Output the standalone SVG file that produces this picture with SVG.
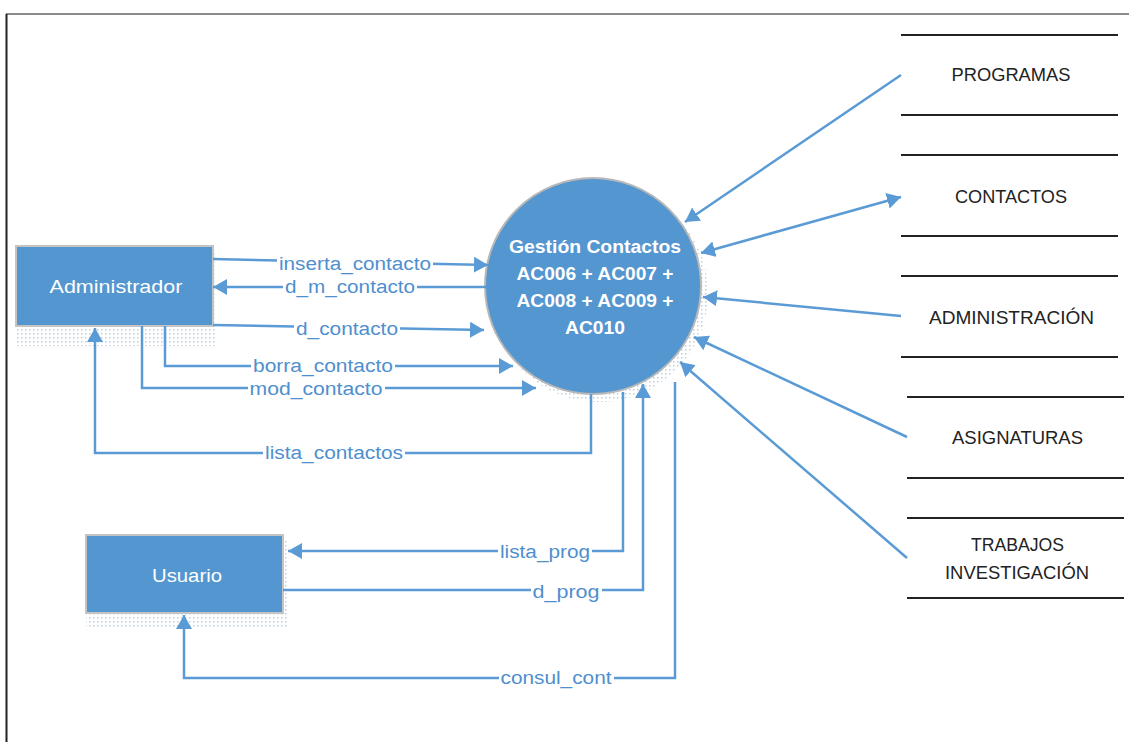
<svg xmlns="http://www.w3.org/2000/svg" width="1129" height="742" viewBox="0 0 1129 742">
<defs>
<style>
.frame-top{stroke:#8c8c8c;stroke-width:2;fill:none}
.frame-left{stroke:#222;stroke-width:2;fill:none}
.ent{fill:#5496d0;stroke:#c4c4c4;stroke-width:2}
.proc{fill:#5496d0;stroke:#b8b8b8;stroke-width:2}
.shadow{fill:url(#dots)}
.ent-t{font-family:"Liberation Sans",Arial,sans-serif;font-size:19px;fill:#fff;text-anchor:middle}
.proc-t{font-family:"Liberation Sans",Arial,sans-serif;font-size:18px;font-weight:bold;fill:#fff;text-anchor:middle}
.store{stroke:#222;stroke-width:2;fill:none}
.store-t{font-family:"Liberation Sans",Arial,sans-serif;font-size:18px;fill:#222;text-anchor:middle}
.flow{stroke:#5b9bd5;stroke-width:2.5;fill:none}
.arr{marker-end:url(#ah)}
.bg{fill:#fff}
.lbl{font-family:"Liberation Sans",Arial,sans-serif;font-size:18px;fill:#4f8fce;text-anchor:middle}
</style>
<pattern id="dots" width="4" height="4" patternUnits="userSpaceOnUse">
<rect x="1" y="1" width="1.5" height="1.5" fill="#8fb0d4" opacity="0.6"/>
</pattern>
<marker id="ah" viewBox="0 0 14 16" refX="14" refY="8" markerWidth="14" markerHeight="16" markerUnits="userSpaceOnUse" orient="auto-start-reverse">
<path d="M0,0 L14,8 L0,16 z" fill="#5b9bd5"/>
</marker>
</defs>
<rect width="1129" height="742" fill="#fff"/>
<path class="frame-top" d="M6,14 H1129"/>
<path class="frame-left" d="M6.5,14 V742"/>

<g id="node-proc">
<circle class="shadow" cx="599" cy="293" r="109"/>
<circle class="proc" cx="593" cy="286" r="108"/>
<text class="proc-t" x="595" y="253" textLength="172" lengthAdjust="spacingAndGlyphs">Gestión Contactos</text>
<text class="proc-t" x="595" y="280" textLength="157" lengthAdjust="spacingAndGlyphs">AC006 + AC007 +</text>
<text class="proc-t" x="595" y="307" textLength="157" lengthAdjust="spacingAndGlyphs">AC008 + AC009 +</text>
<text class="proc-t" x="595" y="334" textLength="60" lengthAdjust="spacingAndGlyphs">AC010</text>
</g>

<g id="node-admin">
<rect class="shadow" x="16" y="250" width="201" height="96"/>
<rect class="ent" x="16" y="246" width="197" height="80"/>
<text class="ent-t" x="116" y="293" textLength="133" lengthAdjust="spacingAndGlyphs">Administrador</text>
</g>

<g id="node-usuario">
<rect class="shadow" x="86" y="539" width="201" height="88"/>
<rect class="ent" x="86" y="535" width="197" height="78"/>
<text class="ent-t" x="187" y="582" textLength="70" lengthAdjust="spacingAndGlyphs">Usuario</text>
</g>

<g id="store-programas">
<path class="store" d="M901,35 H1118 M901,115 H1118"/>
<text class="store-t" x="1011" y="81" textLength="119" lengthAdjust="spacingAndGlyphs">PROGRAMAS</text>
</g>
<g id="store-contactos">
<path class="store" d="M901,155 H1118 M901,236 H1118"/>
<text class="store-t" x="1011" y="203" textLength="112" lengthAdjust="spacingAndGlyphs">CONTACTOS</text>
</g>
<g id="store-administracion">
<path class="store" d="M901,276 H1118 M901,357 H1118"/>
<text class="store-t" x="1011.5" y="324" textLength="165" lengthAdjust="spacingAndGlyphs">ADMINISTRACIÓN</text>
</g>
<g id="store-asignaturas">
<path class="store" d="M907,397 H1124 M907,478 H1124"/>
<text class="store-t" x="1017.5" y="444" textLength="131" lengthAdjust="spacingAndGlyphs">ASIGNATURAS</text>
</g>
<g id="store-trabajos">
<path class="store" d="M907,518 H1124 M907,598 H1124"/>
<text class="store-t" x="1017.5" y="551" textLength="93" lengthAdjust="spacingAndGlyphs">TRABAJOS</text>
<text class="store-t" x="1017" y="579" textLength="144" lengthAdjust="spacingAndGlyphs">INVESTIGACIÓN</text>
</g>

<g id="connectors">
<path class="flow arr" d="M213,259 L488,265"/>
<path class="flow arr" d="M486,287 L213,287"/>
<path class="flow arr" d="M213,325 L484,330"/>
<path class="flow arr" d="M165,326 V366 H513"/>
<path class="flow arr" d="M142,326 V388 H536"/>
<path class="flow arr" d="M591,394 V453 H95 V328"/>
<path class="flow arr" d="M623,392 V551 H288"/>
<path class="flow arr" d="M283,590 H643 V384"/>
<path class="flow arr" d="M675,382 V678 H184 V615"/>
<path class="flow arr" d="M901,75 L685,222"/>
<path class="flow arr" style="marker-start:url(#ah)" d="M701,253 L901,197"/>
<path class="flow arr" d="M901,316 L703,297"/>
<path class="flow arr" d="M907,437 L694,337"/>
<path class="flow arr" d="M907,558 L680,362"/>
<rect class="bg" x="277" y="254" width="156" height="21"/>
<rect class="bg" x="283" y="277" width="134" height="21"/>
<rect class="bg" x="294" y="319" width="106" height="21"/>
<rect class="bg" x="251" y="356" width="144" height="21"/>
<rect class="bg" x="248" y="379" width="137" height="21"/>
<rect class="bg" x="263" y="443" width="142" height="21"/>
<rect class="bg" x="498" y="542" width="94" height="21"/>
<rect class="bg" x="531" y="582" width="71" height="21"/>
<rect class="bg" x="499" y="668" width="115" height="21"/>
<text class="lbl" x="355" y="270" textLength="152" lengthAdjust="spacingAndGlyphs">inserta_contacto</text>
<text class="lbl" x="350" y="293" textLength="130" lengthAdjust="spacingAndGlyphs">d_m_contacto</text>
<text class="lbl" x="347" y="335" textLength="102" lengthAdjust="spacingAndGlyphs">d_contacto</text>
<text class="lbl" x="323" y="372" textLength="140" lengthAdjust="spacingAndGlyphs">borra_contacto</text>
<text class="lbl" x="316" y="395" textLength="133" lengthAdjust="spacingAndGlyphs">mod_contacto</text>
<text class="lbl" x="334" y="459" textLength="138" lengthAdjust="spacingAndGlyphs">lista_contactos</text>
<text class="lbl" x="545" y="558" textLength="90" lengthAdjust="spacingAndGlyphs">lista_prog</text>
<text class="lbl" x="566" y="598" textLength="67" lengthAdjust="spacingAndGlyphs">d_prog</text>
<text class="lbl" x="556" y="684" textLength="111" lengthAdjust="spacingAndGlyphs">consul_cont</text>
</g>
</svg>
